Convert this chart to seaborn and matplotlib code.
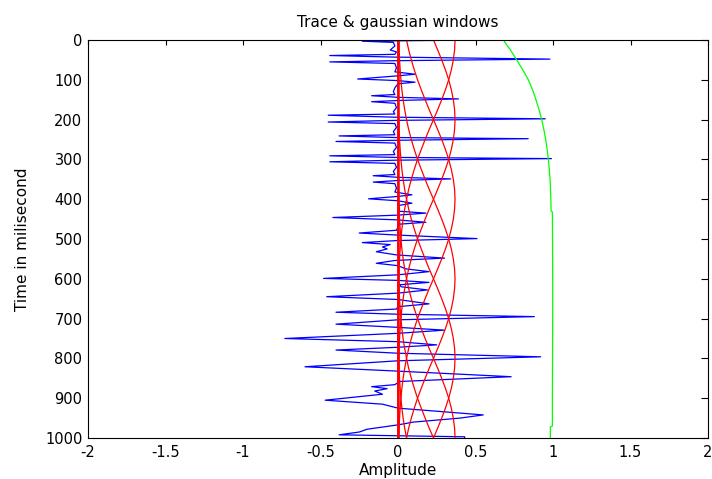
import numpy as np
import pandas as pd
import matplotlib
matplotlib.use("Agg")
import matplotlib.pyplot as plt
import seaborn as sns

# ---------------- data ----------------
trace_time = [0, 3, 6, 15, 25, 30, 36, 39, 43, 48, 52, 55, 59, 70, 80, 86, 90, 98, 102, 106,
              110, 120, 130, 137, 140, 144, 148, 152, 155, 159, 170, 180, 186, 189, 194, 198,
              202, 206, 210, 220, 230, 238, 241, 245, 248, 252, 255, 259, 270, 280, 288, 291,
              295, 298, 302, 306, 310, 320, 330, 338, 341, 345, 349, 353, 357, 361, 372, 382,
              389, 393, 399, 404, 410, 416, 425, 430, 435, 440, 446, 452, 458, 463, 470, 478,
              485, 490, 499, 504, 509, 514, 520, 525, 532, 540, 548, 554, 561, 567, 575, 582,
              590, 599, 604, 609, 615, 620, 628, 636, 645, 652, 663, 670, 676, 684, 689, 695,
              703, 714, 722, 729, 737, 750, 758, 766, 772, 779, 787, 796, 806, 821, 832, 846,
              858, 866, 871, 876, 882, 890, 905, 915, 925, 942, 950, 960, 967, 978, 985, 992,
              997, 1000]
trace_amp = [0.50, -0.23, -0.03, -0.02, -0.05, -0.01, -0.02, -0.44, -0.02, 0.98, -0.02, -0.44,
             -0.02, -0.01, -0.02, 0.11, 0.0, -0.26, 0.0, 0.11,
             0.0, -0.02, -0.03, -0.02, -0.17, 0.0, 0.39, 0.0, -0.17, -0.02, -0.01, -0.03, -0.02,
             -0.45, -0.02, 0.95,
             -0.02, -0.45, -0.02, -0.01, -0.03, -0.02, -0.38, -0.02, 0.84, -0.02, -0.40, -0.02,
             -0.01, -0.03, -0.02, -0.44,
             -0.02, 0.99, -0.02, -0.44, -0.02, -0.01, -0.03, -0.02, -0.16, 0.0, 0.34, 0.0, -0.16,
             -0.02, -0.01, -0.02,
             0.09, 0.0, -0.19, 0.0, 0.09, 0.0, 0.01, 0.0, 0.18, 0.0, -0.42, 0.0, 0.18, 0.0, 0.0,
             -0.01,
             -0.25, -0.01, 0.51, -0.01, -0.23, -0.05, -0.10, -0.07, -0.14, -0.01, 0.30, -0.02,
             -0.14, 0.0, 0.05, 0.20,
             0.0, -0.48, 0.0, 0.20, 0.01, 0.02, 0.19, 0.0, -0.46, 0.0, 0.20, 0.0, -0.01, -0.40,
             0.0, 0.88,
             0.0, -0.40, 0.0, 0.30, 0.0, -0.73, 0.0, 0.25, 0.0, -0.40, 0.0, 0.92, 0.0, -0.60, 0.0,
             0.73,
             0.01, -0.02, -0.17, -0.07, -0.15, -0.10, -0.47, -0.10, 0.0, 0.55, 0.40, 0.10, 0.0,
             -0.20, -0.25, -0.38,
             0.43, 0.43]

window_centers = [0, 200, 400, 600, 800, 1000, 1200, 1400, 1600]
window_offsets = [0, 25, 50, 75, 100, 125, 150, 175, 200, 225, 250, 275, 300, 325, 350, 375,
                  400, 425, 450, 475, 500, 525, 550, 575, 600, 625, 650, 675, 700, 750, 800,
                  900, 1000]
window_profile = [0.368, 0.365, 0.357, 0.344, 0.327, 0.306, 0.282, 0.256, 0.229, 0.201, 0.175,
                  0.150, 0.126, 0.105, 0.086, 0.069, 0.055, 0.043, 0.033, 0.025, 0.019, 0.014,
                  0.010, 0.007, 0.005, 0.0035, 0.0024, 0.0016, 0.001, 0.0004, 0.0, 0.0, 0.0]

sum_time = [0, 25, 50, 75, 100, 125, 150, 175, 200, 225, 250, 275, 300, 325, 350, 400, 430,
            432, 500, 600, 700, 800, 900, 970, 972, 1000]
sum_amp = [0.68, 0.725, 0.766, 0.805, 0.841, 0.868, 0.890, 0.910, 0.927, 0.941, 0.953, 0.962,
           0.970, 0.976, 0.981, 0.986, 0.988, 0.996, 0.997, 0.998, 0.998, 0.997, 0.996, 0.996,
           0.983, 0.983]

x_ticks = [-2, -1.5, -1, -0.5, 0, 0.5, 1, 1.5, 2]
x_tick_labels = ["-2", "-1.5", "-1", "-0.5", "0", "0.5", "1", "1.5", "2"]
y_ticks = [0, 100, 200, 300, 400, 500, 600, 700, 800, 900, 1000]

# ---------------- build tables ----------------
trace_df = pd.DataFrame({"time": trace_time, "amp": trace_amp})

rows = []
for k, c in enumerate(window_centers):
    offs = window_offsets[::-1][:-1]
    vals = window_profile[::-1][:-1]
    for o, v in zip(offs, vals):
        rows.append((k, c - o, v))
    for o, v in zip(window_offsets, window_profile):
        rows.append((k, c + o, v))
win_df = pd.DataFrame(rows, columns=["win", "time", "amp"])

sum_df = pd.DataFrame({"time": sum_time, "amp": sum_amp})

# ---------------- plot ----------------
sns.set_theme(style="white")
plt.rcParams["font.family"] = ["DejaVu Sans"]
plt.rcParams["axes.unicode_minus"] = False
plt.rcParams["text.color"] = "black"
plt.rcParams["axes.labelcolor"] = "black"
plt.rcParams["xtick.color"] = "black"
plt.rcParams["ytick.color"] = "black"

fig = plt.figure(figsize=(7.12, 4.79), dpi=100)
ax = fig.add_axes([88 / 712, 1 - 438 / 479, 620 / 712, 398 / 479])

sns.lineplot(data=trace_df, x="amp", y="time", sort=False, estimator=None,
             color="#0000ff", linewidth=0.9, ax=ax)
sns.lineplot(data=win_df, x="amp", y="time", units="win", sort=False, estimator=None,
             color="#ff0000", linewidth=0.9, ax=ax)
ax.axvline(0, color="#ff0000", linewidth=1.8)
sns.lineplot(data=sum_df, x="amp", y="time", sort=False, estimator=None,
             color="#00ff00", linewidth=0.9, ax=ax)

ax.set_xlim(-2, 2)
ax.set_ylim(1000, 0)
ax.set_xticks(x_ticks)
ax.set_xticklabels(x_tick_labels)
ax.set_yticks(y_ticks)
ax.set_yticklabels([str(v) for v in y_ticks])

for s in ax.spines.values():
    s.set_visible(True)
    s.set_color("black")
    s.set_linewidth(0.8)

ax.tick_params(axis="both", which="both", direction="in", top=True, right=True,
               labelsize=10.5, colors="black", width=0.8)
ax.tick_params(axis="x", length=3.6, pad=5)
ax.tick_params(axis="y", length=5, pad=4)

ax.set_xlabel("Amplitude", fontsize=11, labelpad=2, color="black")
ax.set_ylabel("Time in milisecond", fontsize=11, labelpad=11, color="black")
ax.set_title("Trace & gaussian windows", fontsize=11, pad=9, color="black")

fig.savefig("out.png", dpi=100)
